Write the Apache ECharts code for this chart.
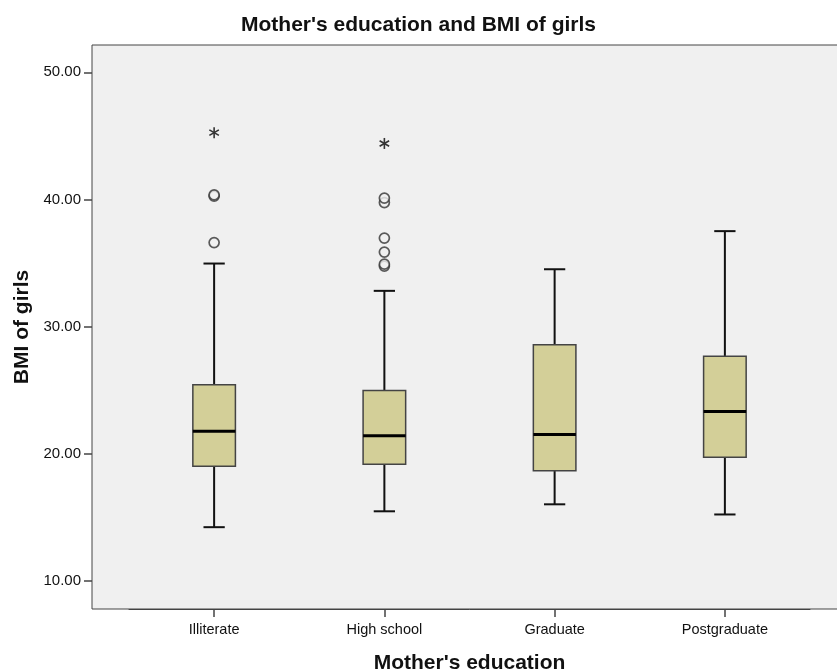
<!DOCTYPE html>
<html>
<head>
<meta charset="utf-8">
<script src="https://cdn.jsdelivr.net/npm/echarts@6/dist/echarts.min.js"></script>
<style>
  html, body { margin: 0; padding: 0; background: #fff; }
  #main { width: 837px; height: 670px; }
</style>
</head>
<body>
<div id="main"></div>
<script>
// Data
var categories = ['Illiterate', 'High school', 'Graduate', 'Postgraduate'];
// [low whisker, Q1, median, Q3, high whisker]
var boxValues = [
  [14.2, 19.0, 21.75, 25.4, 34.95],
  [15.45, 19.15, 21.4, 24.95, 32.8],
  [16.0, 18.65, 21.5, 28.55, 34.5],
  [15.2, 19.7, 23.3, 27.65, 37.5]
];
// mild outliers (circles): [category index, value]
var outliers = [
  [0, 36.6], [0, 40.25], [0, 40.35],
  [1, 34.75], [1, 34.9], [1, 35.85], [1, 36.95], [1, 39.75], [1, 40.1]
];
// extreme outliers (stars)
var extremes = [[0, 45.25], [1, 44.4]];
var yTicks = [10, 20, 30, 40, 50];

var myChart = echarts.init(document.getElementById('main'));

var boxData = boxValues.map(function (b, i) { return [i].concat(b); });

function renderBox(params, api) {
  var i = api.value(0);
  var low = api.coord([i, api.value(1)]);
  var q1 = api.coord([i, api.value(2)]);
  var med = api.coord([i, api.value(3)]);
  var q3 = api.coord([i, api.value(4)]);
  var high = api.coord([i, api.value(5)]);
  var w = api.size([1, 0])[0] * 0.25;
  var cx = low[0];
  var whisker = { stroke: '#111', lineWidth: 2 };
  return {
    type: 'group',
    children: [
      { type: 'line', shape: { x1: cx, y1: high[1], x2: cx, y2: q3[1] }, style: whisker },
      { type: 'line', shape: { x1: cx, y1: q1[1], x2: cx, y2: low[1] }, style: whisker },
      { type: 'line', shape: { x1: cx - w / 4, y1: high[1], x2: cx + w / 4, y2: high[1] }, style: whisker },
      { type: 'line', shape: { x1: cx - w / 4, y1: low[1], x2: cx + w / 4, y2: low[1] }, style: whisker },
      {
        type: 'rect',
        shape: { x: cx - w / 2, y: q3[1], width: w, height: q1[1] - q3[1] },
        style: { fill: '#d3cf98', stroke: '#444', lineWidth: 1.5 }
      },
      { type: 'line', shape: { x1: cx - w / 2, y1: med[1], x2: cx + w / 2, y2: med[1] }, style: { stroke: '#000', lineWidth: 3 } }
    ]
  };
}

function renderStar(params, api) {
  var p = api.coord([api.value(0), api.value(1)]);
  var r = 5.5;
  var children = [];
  for (var k = 0; k < 3; k++) {
    var a = Math.PI / 2 + k * Math.PI / 3;
    children.push({
      type: 'line',
      shape: { x1: p[0] - r * Math.cos(a), y1: p[1] - r * Math.sin(a), x2: p[0] + r * Math.cos(a), y2: p[1] + r * Math.sin(a) },
      style: { stroke: '#333', lineWidth: 1.6 }
    });
  }
  return { type: 'group', children: children };
}

var yMin = 7.76, yMax = 52.15;

var option = {
  animation: false,
  title: {
    text: "Mother's education and BMI of girls",
    left: 'center',
    top: 10,
    textStyle: { fontFamily: 'Liberation Sans', fontSize: 21, fontWeight: 'bold', color: '#111' }
  },
  grid: [
    {
      left: 92, right: -10, top: 45, bottom: 61, containLabel: false, outerBoundsMode: 'none',
      show: true, backgroundColor: '#f0f0f0', borderColor: '#444', borderWidth: 1
    },
    { left: 129, right: 27, top: 45, bottom: 61, containLabel: false, outerBoundsMode: 'none' }
  ],
  xAxis: [
    {
      gridIndex: 0, type: 'value', min: 0, max: 1,
      axisLine: { show: false }, axisTick: { show: false }, axisLabel: { show: false }, splitLine: { show: false },
      name: "Mother's education", nameLocation: 'middle', nameGap: 44,
      nameTextStyle: { fontFamily: 'Liberation Sans', fontSize: 21, fontWeight: 'bold', color: '#111' }
    },
    {
      gridIndex: 1, type: 'category', data: categories,
      axisLine: { show: true, lineStyle: { color: '#444', width: 1 } },
      axisTick: { show: true, alignWithLabel: true, length: 8, lineStyle: { color: '#444', width: 1.5 } },
      axisLabel: { fontFamily: 'Liberation Sans', fontSize: 14.5, color: '#111', margin: 13 },
      splitLine: { show: false }
    }
  ],
  yAxis: [
    {
      gridIndex: 0, type: 'value', min: yMin, max: yMax,
      axisLine: { show: false },
      axisTick: { show: true, length: 8, customValues: yTicks, lineStyle: { color: '#444', width: 1.5 } },
      axisLabel: {
        customValues: yTicks, fontFamily: 'Liberation Sans', fontSize: 15, color: '#111', margin: 11,
        formatter: function (v) { return v.toFixed(2); }
      },
      splitLine: { show: false },
      name: 'BMI of girls', nameLocation: 'middle', nameGap: 54, nameRotate: 90,
      nameTextStyle: { fontFamily: 'Liberation Sans', fontSize: 21, fontWeight: 'bold', color: '#111' }
    },
    { gridIndex: 1, type: 'value', min: yMin, max: yMax, show: false, splitLine: { show: false } }
  ],
  series: [
    { type: 'custom', xAxisIndex: 1, yAxisIndex: 1, data: boxData, renderItem: renderBox, z: 3 },
    {
      type: 'scatter', xAxisIndex: 1, yAxisIndex: 1, data: outliers,
      symbol: 'circle', symbolSize: 10,
      itemStyle: { color: '#f0f0f0', borderColor: '#333', borderWidth: 1.7 }, z: 4
    },
    { type: 'custom', xAxisIndex: 1, yAxisIndex: 1, data: extremes, renderItem: renderStar, z: 4 }
  ]
};

myChart.setOption(option);
</script>
</body>
</html>
